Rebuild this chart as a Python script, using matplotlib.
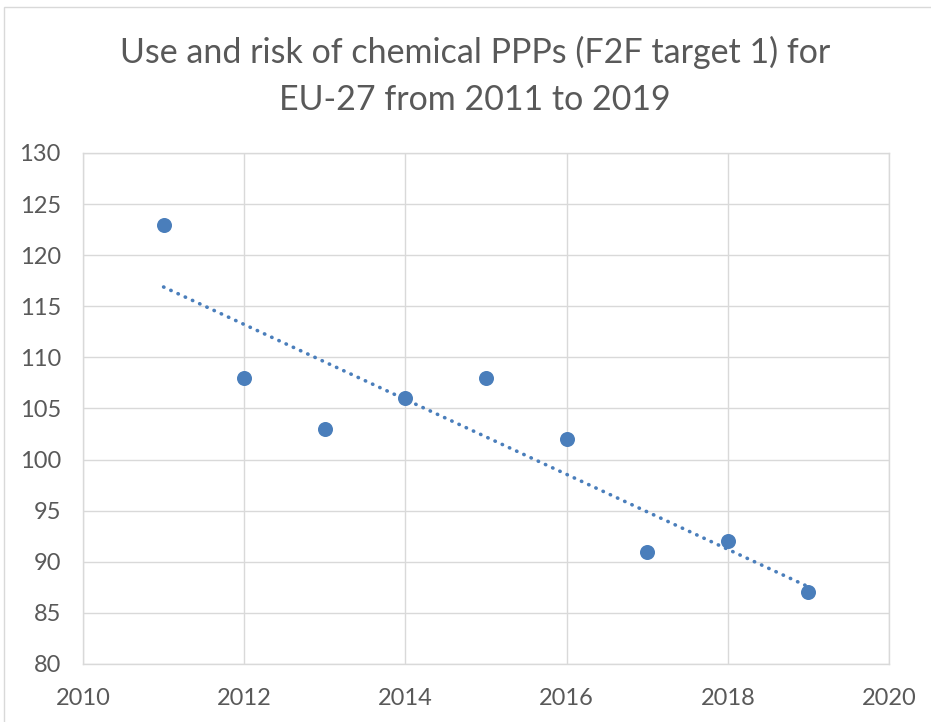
import matplotlib.pyplot as plt
import numpy as np
from matplotlib.patches import Rectangle

years = [2011, 2012, 2013, 2014, 2015, 2016, 2017, 2018, 2019]
index_values = [123, 108, 103, 106, 108, 102, 91, 92, 87]

blue = '#4a7ebb'
grid = '#d9d9d9'
text_color = '#595959'

plt.rcParams['font.family'] = ['Lato', 'DejaVu Sans']

fig = plt.figure(figsize=(9.31, 7.22), dpi=100)
ax = fig.add_axes([83 / 931, 1 - 664 / 722, (889 - 83) / 931, (664 - 153) / 722])

# chart border like the Excel frame
fig.patches.append(Rectangle((4 / 931, -0.1), 1.2, 1 - 7 / 722 + 0.1, transform=fig.transFigure,
                             fill=False, edgecolor=grid, linewidth=1))

# linear trendline
slope, intercept = np.polyfit(years, index_values, 1)
trend_x = np.array([years[0], years[-1]])
ax.plot(trend_x, slope * trend_x + intercept, linestyle=(0, (0.1, 2.1)), dash_capstyle='round',
        color=blue, linewidth=2.6)

ax.scatter(years, index_values, s=117, color=blue, zorder=3, linewidths=0)

ax.set_xlim(2010, 2020)
ax.set_ylim(80, 130)
ax.set_xticks(range(2010, 2021, 2))
ax.set_yticks(range(80, 131, 5))
ax.grid(True, color=grid, linewidth=1.0)
ax.set_axisbelow(True)
for s in ax.spines.values():
    s.set_color(grid)
    s.set_linewidth(1.0)
ax.tick_params(length=0, labelsize=17, colors=text_color)
ax.tick_params(axis='y', pad=16)
ax.tick_params(axis='x', pad=17)

title_x = 475 / 931
fig.text(title_x, 1 - 63 / 722, 'Use and risk of chemical PPPs (F2F target 1) for', ha='center', va='baseline',
         fontsize=24.5, color=text_color)
fig.text(title_x, 1 - 110 / 722, 'EU-27 from 2011 to 2019', ha='center', va='baseline',
         fontsize=24.5, color=text_color)

fig.savefig('out.png', dpi=100)
